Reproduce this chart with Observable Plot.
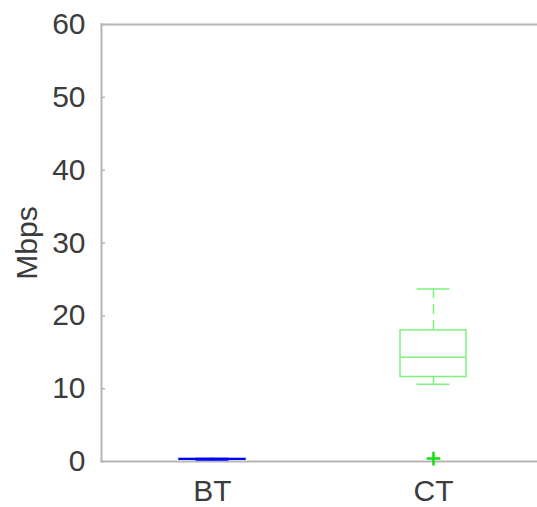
<!DOCTYPE html>
<html>
<head>
<meta charset="utf-8">
<script src="https://cdn.jsdelivr.net/npm/d3@7"></script>
<script src="https://cdn.jsdelivr.net/npm/@observablehq/plot@0.6"></script>
<style>
  html, body { margin: 0; padding: 0; background: #fff; overflow: hidden; scrollbar-width: none; }
  ::-webkit-scrollbar { width: 0; height: 0; display: none; }
  #chart { width: 537px; }
  #chart svg { display: block; max-width: none !important; }
</style>
</head>
<body>
<div id="chart"></div>
<script>
const categories = ["BT", "CT"];
const whiskerLow = [0.2, 10.6];
const q1 = [0.25, 11.6];
const median = [0.3, 14.3];
const q3 = [0.35, 18.0];
const whiskerHigh = [0.4, 23.7];
const outlierCategory = ["CT"];
const outlierValue = [0.4];
const colors = ["#0000ff", "#7ef27e"];
const yTicks = [0, 10, 20, 30, 40, 50, 60];

const boxes = categories.map((c, i) => ({
  cat: c, lo: whiskerLow[i], q1: q1[i], med: median[i], q3: q3[i], hi: whiskerHigh[i], color: colors[i]
}));
const outliers = outlierCategory.map((c, i) => ({cat: c, v: outlierValue[i]}));

const font = "'Liberation Sans', Arial, Helvetica, sans-serif";
const chart = Plot.plot({
  width: 537,
  height: 507,
  marginLeft: 101,
  marginRight: 0,
  marginTop: 24,
  marginBottom: 46,
  style: {fontFamily: font, fontSize: "30px", color: "#3c3c3c", background: "#fff"},
  x: {type: "band", domain: categories, range: [101, 544], paddingInner: 0.702, paddingOuter: 0.351},
  y: {domain: [0, 60]},
  marks: [
    Plot.frame({anchor: "top", stroke: "#b5b5b5", strokeWidth: 2}),
    Plot.frame({anchor: "bottom", stroke: "#b5b5b5", strokeWidth: 2}),
    Plot.frame({anchor: "left", stroke: "#b5b5b5", strokeWidth: 2}),
    Plot.axisY(yTicks, {tickSize: -4, text: null, label: null, stroke: "#b5b5b5", strokeWidth: 1.5}),
    Plot.axisY(yTicks, {tickSize: 0, tickPadding: 16, fontSize: 30, fill: "#3c3c3c", label: "Mbps", labelAnchor: "center", labelOffset: 86, labelArrow: "none"}),
    Plot.axisX(categories, {tickSize: -4, text: null, label: null, stroke: "#b5b5b5", strokeWidth: 1.5}),
    Plot.axisX(categories, {tickSize: 0, tickPadding: 18, fontSize: 30, fill: "#3c3c3c", label: null}),
    Plot.ruleX(boxes, {x: "cat", y1: "q3", y2: "hi", stroke: "color", strokeWidth: 1.5, strokeDasharray: "10,6"}),
    Plot.ruleX(boxes, {x: "cat", y1: "lo", y2: "q1", stroke: "color", strokeWidth: 1.5}),
    Plot.tickY(boxes, {x: "cat", y: "hi", stroke: "color", strokeWidth: 1.5, insetLeft: 16.5, insetRight: 16.5}),
    Plot.tickY(boxes, {x: "cat", y: "lo", stroke: "color", strokeWidth: 1.5, insetLeft: 16.5, insetRight: 16.5}),
    Plot.barY(boxes, {x: "cat", y1: "q1", y2: "q3", fill: "none", stroke: "color", strokeWidth: 1.5}),
    Plot.tickY(boxes, {x: "cat", y: "med", stroke: "color", strokeWidth: 1.5}),
    Plot.dot(outliers, {x: "cat", y: "v", symbol: "plus", r: 4.5, stroke: "#11e011", strokeWidth: 2.5})
  ]
});
document.getElementById("chart").appendChild(chart);
</script>
</body>
</html>
